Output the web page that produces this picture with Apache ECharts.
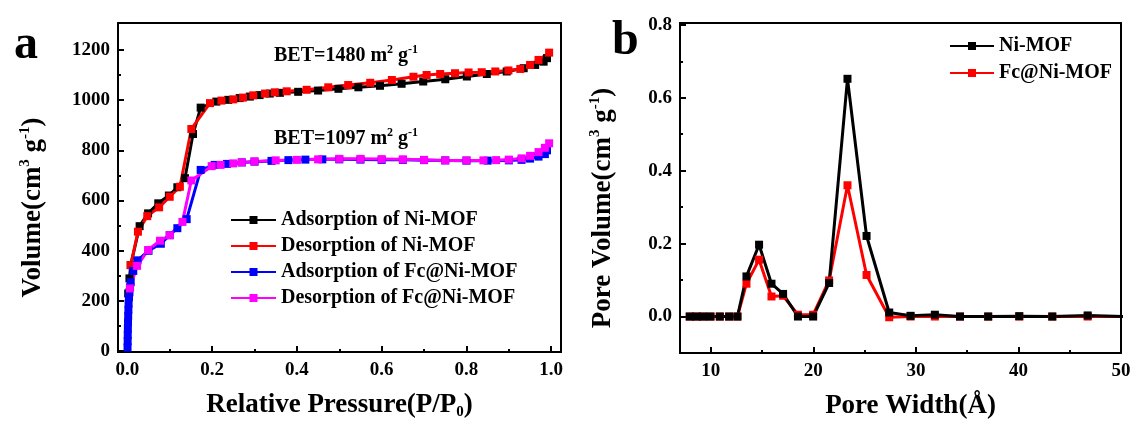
<!DOCTYPE html>
<html>
<head>
<meta charset="utf-8">
<script src="https://cdn.jsdelivr.net/npm/echarts@6/dist/echarts.min.js"></script>
<style>
html,body{margin:0;padding:0;background:#fff;}
#c{width:1135px;height:427px;}
</style>
</head>
<body>
<div id="c"></div>
<script>
// ---- Panel a: N2 isotherms ----
var niAdsX = [0.002,0.005,0.008,0.029,0.049,0.073,0.098,0.118,0.136,0.155,0.173,0.21,0.238,0.265,0.289,0.312,0.336,0.36,0.403,0.45,0.498,0.545,0.596,0.647,0.698,0.75,0.801,0.848,0.895,0.935,0.962,0.982,0.99];
var niAdsY = [230,290,343,498,549,589,620,653,689,865,970,994,1001,1008,1014,1020,1026,1029,1033,1038,1045,1051,1057,1065,1074,1083,1094,1104,1114,1127,1140,1153,1167];
var niDesX = [0.995,0.97,0.95,0.927,0.899,0.868,0.836,0.805,0.773,0.738,0.706,0.675,0.624,0.573,0.521,0.474,0.423,0.376,0.348,0.325,0.297,0.273,0.25,0.222,0.195,0.151,0.124,0.1,0.075,0.047,0.025,0.008];
var niDesY = [1189,1160,1140,1124,1118,1114,1111,1110,1107,1104,1100,1093,1080,1069,1060,1051,1041,1035,1031,1026,1019,1010,1003,998,988,885,655,615,573,538,476,343];
var fcAdsX = [0.0005,0.0008,0.001,0.0013,0.0016,0.002,0.0025,0.003,0.004,0.005,0.0065,0.008,0.014,0.024,0.05,0.079,0.1,0.118,0.14,0.173,0.206,0.235,0.27,0.3,0.34,0.38,0.42,0.46,0.5,0.55,0.6,0.65,0.7,0.75,0.8,0.85,0.9,0.93,0.95,0.97,0.985,0.99];
var fcAdsY = [15,40,65,90,115,140,165,190,215,235,255,275,320,362,400,428,462,490,526,722,742,746,752,755,758,761,763,764,764,763,762,762,761,760,759,759,760,762,767,775,785,800];
var fcDesX = [0.995,0.985,0.97,0.95,0.93,0.9,0.87,0.84,0.8,0.75,0.7,0.65,0.6,0.55,0.5,0.45,0.4,0.35,0.3,0.27,0.25,0.22,0.199,0.151,0.13,0.1,0.077,0.049,0.023,0.006];
var fcDesY = [828,810,793,778,768,763,761,760,760,760,762,764,765,766,766,764,762,760,756,752,748,742,737,680,515,462,440,403,340,250];
var isoNames = ['Adsorption of Ni-MOF','Desorption of Ni-MOF','Adsorption of Fc@Ni-MOF','Desorption of Fc@Ni-MOF'];
var aXMajor = [0,0.2,0.4,0.6,0.8,1.0];
var aXMinor = [0.1,0.3,0.5,0.7,0.9];
var aYMajor = [0,200,400,600,800,1000,1200];
var aYMinor = [100,300,500,700,900,1100];

// ---- Panel b: pore size distribution ----
var poreX = [7.95,8.6,9.25,9.97,10.88,11.79,12.6,13.48,14.71,15.92,17.05,18.5,19.98,21.54,23.33,25.19,27.4,29.48,31.85,34.3,37.05,40.08,43.3,46.75,50.5];
var niPore = [0,0,0,0,0,0,0,0.11,0.197,0.09,0.062,0,0,0.092,0.652,0.221,0.011,0.002,0.005,0,0,0.001,0,0.003,0];
var fcPore = [0,0,0,0,0,0,0,0.09,0.156,0.055,0.057,0.005,0.005,0.099,0.36,0.114,-0.002,0,0,0,0,0,0,0,0];
var poreNames = ['Ni-MOF','Fc@Ni-MOF'];
var bXMajor = [10,20,30,40,50];
var bXMinor = [15,25,35,45];
var bYMajor = [0,0.2,0.4,0.6,0.8];
var bYMinor = [0.1,0.3,0.5,0.7];

var FONT = '"Liberation Serif","Times New Roman",serif';
function zip(xs, ys){ return xs.map(function(x,i){ return [x, ys[i]]; }); }

function mkX(grid, min, max, major, minor, fmt, name, nameRich, nameGap, namePad){
  return [{
    gridIndex: grid, type:'value', min:min, max:max, position:'bottom',
    axisLine:{show:true, onZero:false, lineStyle:{color:'#000', width:2}},
    axisTick:{show:true, inside:true, length:6, customValues:major, lineStyle:{color:'#000', width:2}},
    axisLabel:{show:true, customValues:major, formatter:fmt, margin:9, color:'#000', fontFamily:FONT, fontWeight:'bold', fontSize:19},
    splitLine:{show:false},
    name:name, nameLocation:'middle', nameGap:nameGap,
    nameTextStyle:{color:'#000', padding:namePad, rich:nameRich}
  },{
    gridIndex: grid, type:'value', min:min, max:max, position:'bottom',
    axisLine:{show:false, onZero:false},
    axisTick:{show:true, inside:true, length:3, customValues:minor, lineStyle:{color:'#000', width:2}},
    axisLabel:{show:false}, splitLine:{show:false}
  }];
}
function mkY(grid, min, max, major, minor, fmt, name, nameRich, nameGap, namePad){
  return [{
    gridIndex: grid, type:'value', min:min, max:max, position:'left',
    axisLine:{show:true, onZero:false, lineStyle:{color:'#000', width:2}},
    axisTick:{show:true, inside:true, length:6, customValues:major, lineStyle:{color:'#000', width:2}},
    axisLabel:{show:true, customValues:major, formatter:fmt, margin:8, color:'#000', fontFamily:FONT, fontWeight:'bold', fontSize:19},
    splitLine:{show:false},
    name:name, nameLocation:'middle', nameGap:nameGap,
    nameTextStyle:{color:'#000', padding:namePad, rich:nameRich}
  },{
    gridIndex: grid, type:'value', min:min, max:max, position:'left',
    axisLine:{show:false, onZero:false},
    axisTick:{show:true, inside:true, length:3, customValues:minor, lineStyle:{color:'#000', width:2}},
    axisLabel:{show:false}, splitLine:{show:false}
  }];
}

var titleRich = {
  t:{fontFamily:FONT, fontWeight:'bold', fontSize:27, color:'#000', lineHeight:30},
  sup:{fontFamily:FONT, fontWeight:'bold', fontSize:15, color:'#000', verticalAlign:'top', lineHeight:30},
  sub:{fontFamily:FONT, fontWeight:'bold', fontSize:15, color:'#000', verticalAlign:'bottom', lineHeight:24}
};

var xAxes = [].concat(
  mkX(0, -0.022, 1.023, aXMajor, aXMinor, function(v){return v.toFixed(1);},
      '{t|Relative Pressure(P/P}{sub|0}{t|)}', titleRich, 38, [0,0,0,0]),
  mkX(1, 7, 50, bXMajor, bXMinor, function(v){return String(v);},
      '{t|Pore Width(Å)}', titleRich, 38, [0,0,0,20])
);
var yAxes = [].concat(
  mkY(0, -3, 1307, aYMajor, aYMinor, function(v){return String(v);},
      '{t|Volume(cm}{sup|3}{t| g}{sup|-1}{t|)}', titleRich, 70, [0,40,0,0]),
  mkY(1, -0.1, 0.805, bYMajor, bYMinor, function(v){return v.toFixed(1);},
      '{t|Pore Volume(cm}{sup|3}{t| g}{sup|-1}{t|)}', titleRich, 62, [0,40,0,0])
);

function lineSeries(name, color, data, xi, yi){
  return {
    name:name, type:'line', data:data, xAxisIndex:xi, yAxisIndex:yi,
    symbol:'rect', symbolSize:8, showAllSymbol:true,
    lineStyle:{color:color, width:3}, itemStyle:{color:color},
    emphasis:{disabled:true}
  };
}

var option = {
  backgroundColor:'#fff',
  animation:false,
  grid:[
    {left:118, right:574, top:23, bottom:75, show:true, borderColor:'#000', borderWidth:2, backgroundColor:'transparent'},
    {left:680, right:14, top:23, bottom:74, show:true, borderColor:'#000', borderWidth:2, backgroundColor:'transparent'}
  ],
  xAxis: xAxes,
  yAxis: yAxes,
  legend:[
    {data:isoNames, orient:'vertical', left:225, top:205, itemWidth:45, itemHeight:10, itemGap:6,
     textStyle:{fontFamily:FONT, fontWeight:'bold', fontSize:20, color:'#000', lineHeight:20}},
    {data:poreNames, orient:'vertical', left:944, top:31, itemWidth:44, itemHeight:10, itemGap:7,
     textStyle:{fontFamily:FONT, fontWeight:'bold', fontSize:20, color:'#000', lineHeight:20}}
  ],
  graphic:[
    {type:'text', left:14, top:22, style:{text:'a', font:'bold 48px "Liberation Serif", serif', fill:'#000'}},
    {type:'text', left:612, top:18, style:{text:'b', font:'bold 48px "Liberation Serif", serif', fill:'#000'}},
    {type:'text', left:274, top:44, style:{text:'{t|BET=1480 m}{sup|2}{t| g}{sup|-1}', rich:{
      t:{fontFamily:FONT, fontWeight:'bold', fontSize:20, fill:'#000', lineHeight:24},
      sup:{fontFamily:FONT, fontWeight:'bold', fontSize:12, fill:'#000', verticalAlign:'top', lineHeight:24}}}},
    {type:'text', left:274, top:127, style:{text:'{t|BET=1097 m}{sup|2}{t| g}{sup|-1}', rich:{
      t:{fontFamily:FONT, fontWeight:'bold', fontSize:20, fill:'#000', lineHeight:24},
      sup:{fontFamily:FONT, fontWeight:'bold', fontSize:12, fill:'#000', verticalAlign:'top', lineHeight:24}}}}
  ],
  series:[
    lineSeries(isoNames[0], '#000000', zip(niAdsX, niAdsY), 0, 0),
    lineSeries(isoNames[1], '#ff0000', zip(niDesX, niDesY), 0, 0),
    lineSeries(isoNames[2], '#0000ff', zip(fcAdsX, fcAdsY), 0, 0),
    lineSeries(isoNames[3], '#ff00ff', zip(fcDesX, fcDesY), 0, 0),
    lineSeries(poreNames[1], '#ff0000', zip(poreX, fcPore), 2, 2),
    lineSeries(poreNames[0], '#000000', zip(poreX, niPore), 2, 2)
  ]
};
echarts.init(document.getElementById('c'), null, {renderer:'canvas'}).setOption(option);
</script>
</body>
</html>
